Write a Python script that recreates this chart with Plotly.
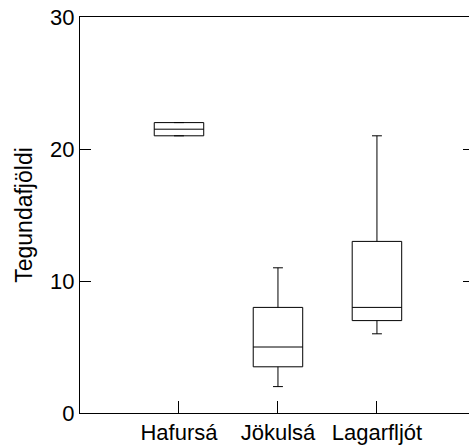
import plotly.graph_objects as go

categories = ["Hafursá", "Jökulsá", "Lagarfljót"]
lower_whisker = [21, 2, 6]
q1_values = [21, 3.5, 7]
median_values = [21.5, 5, 8]
q3_values = [22, 8, 13]
upper_whisker = [22, 11, 21]
y_ticks = [0, 10, 20, 30]

FONT = "Liberation Sans, Arial, sans-serif"

fig = go.Figure()
fig.add_trace(go.Box(
    x=categories,
    q1=q1_values, median=median_values, q3=q3_values,
    lowerfence=lower_whisker, upperfence=upper_whisker,
    line=dict(color="black", width=1),
    fillcolor="white",
    width=0.5,
    whiskerwidth=0.2,
    boxpoints=False,
    showlegend=False,
))
# invisible trace for the right-side tick axis
fig.add_trace(go.Scatter(x=categories, y=[None, None, None], yaxis="y2",
                         showlegend=False, hoverinfo="skip", mode="markers"))

fig.update_layout(
    width=469, height=446,
    margin=dict(l=80, r=0, t=17, b=33),
    paper_bgcolor="white", plot_bgcolor="white",
    font=dict(family=FONT, size=22, color="black"),
    xaxis=dict(
        type="category", range=[-1, 2.93],
        showline=True, linecolor="black", linewidth=1, mirror=True,
        ticks="inside", ticklen=12, tickcolor="black", tickwidth=1,
        showgrid=False, zeroline=False,
        tickfont=dict(size=22),
    ),
    yaxis=dict(
        range=[0, 30], tickvals=y_ticks,
        showline=True, linecolor="black", linewidth=1,
        ticks="inside", ticklen=11, tickcolor="black", tickwidth=1,
        showgrid=False, zeroline=False,
        tickfont=dict(size=22),
        title=dict(text="Tegundafjöldi", font=dict(size=23), standoff=11),
    ),
    yaxis2=dict(
        range=[0, 30], tickvals=y_ticks, overlaying="y", side="right",
        showline=False, ticks="inside", ticklen=6, tickcolor="black",
        tickwidth=1, showticklabels=False, showgrid=False, zeroline=False,
    ),
)

fig.write_html("out.html")
